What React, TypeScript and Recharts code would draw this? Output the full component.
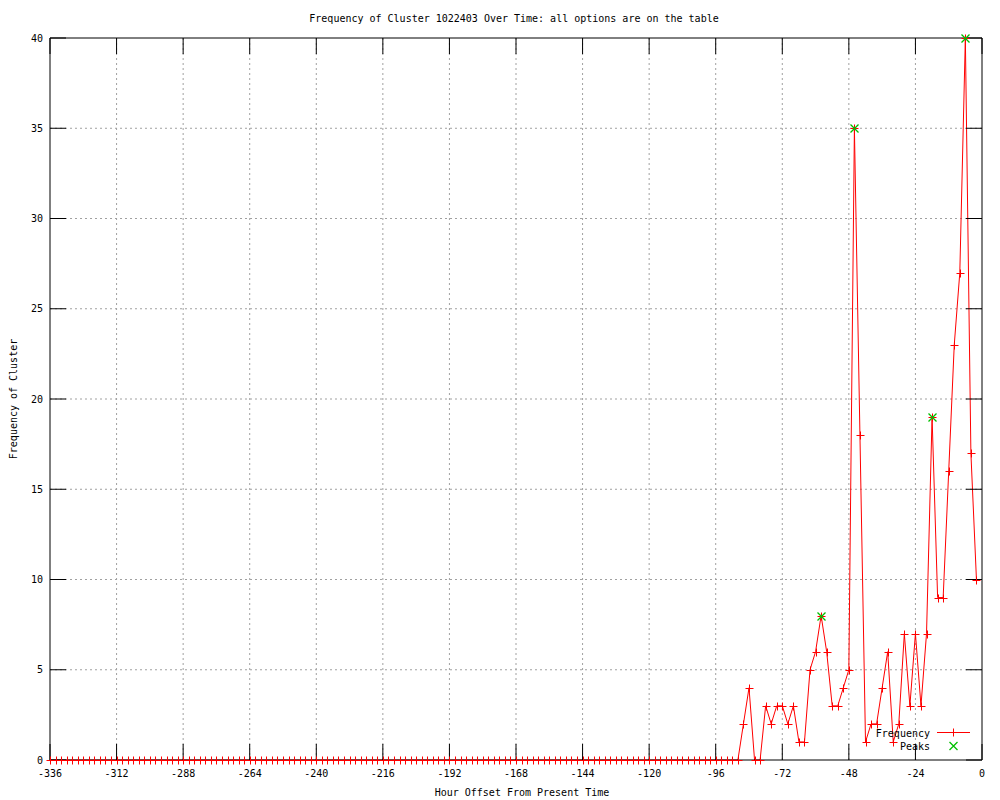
import React from 'react';
import { ComposedChart, Line, XAxis, YAxis, CartesianGrid } from 'recharts';

// Hour offsets (every 2 hours)
const hours = [
  -336, -334, -332, -330, -328, -326, -324, -322, -320, -318, -316, -314,
  -312, -310, -308, -306, -304, -302, -300, -298, -296, -294, -292, -290,
  -288, -286, -284, -282, -280, -278, -276, -274, -272, -270, -268, -266,
  -264, -262, -260, -258, -256, -254, -252, -250, -248, -246, -244, -242,
  -240, -238, -236, -234, -232, -230, -228, -226, -224, -222, -220, -218,
  -216, -214, -212, -210, -208, -206, -204, -202, -200, -198, -196, -194,
  -192, -190, -188, -186, -184, -182, -180, -178, -176, -174, -172, -170,
  -168, -166, -164, -162, -160, -158, -156, -154, -152, -150, -148, -146,
  -144, -142, -140, -138, -136, -134, -132, -130, -128, -126, -124, -122,
  -120, -118, -116, -114, -112, -110, -108, -106, -104, -102, -100, -98,
  -96, -94, -92, -90, -88, -86, -84, -82, -80, -78, -76, -74,
  -72, -70, -68, -66, -64, -62, -60, -58, -56, -54, -52, -50,
  -48, -46, -44, -42, -40, -38, -36, -34, -32, -30, -28, -26,
  -24, -22, -20, -18, -16, -14, -12, -10, -8, -6, -4, -2,
];

const frequency = [
  0, 0, 0, 0, 0, 0, 0, 0, 0, 0, 0, 0,
  0, 0, 0, 0, 0, 0, 0, 0, 0, 0, 0, 0,
  0, 0, 0, 0, 0, 0, 0, 0, 0, 0, 0, 0,
  0, 0, 0, 0, 0, 0, 0, 0, 0, 0, 0, 0,
  0, 0, 0, 0, 0, 0, 0, 0, 0, 0, 0, 0,
  0, 0, 0, 0, 0, 0, 0, 0, 0, 0, 0, 0,
  0, 0, 0, 0, 0, 0, 0, 0, 0, 0, 0, 0,
  0, 0, 0, 0, 0, 0, 0, 0, 0, 0, 0, 0,
  0, 0, 0, 0, 0, 0, 0, 0, 0, 0, 0, 0,
  0, 0, 0, 0, 0, 0, 0, 0, 0, 0, 0, 0,
  0, 0, 0, 0, 0, 2, 4, 0, 0, 3, 2, 3,
  3, 2, 3, 1, 1, 5, 6, 8, 6, 3, 3, 4,
  5, 35, 18, 1, 2, 2, 4, 6, 1, 2, 7, 3,
  7, 3, 7, 19, 9, 9, 16, 23, 27, 40, 17, 10,
];

const peakHours = [-58, -46, -18, -6];
const peakValues = [8, 35, 19, 40];

const xTicks = [-336, -312, -288, -264, -240, -216, -192, -168, -144, -120, -96, -72, -48, -24, 0];
const yTicks = [0, 5, 10, 15, 20, 25, 30, 35, 40];

const TITLE = 'Frequency of Cluster 1022403 Over Time: all options are on the table';
const X_LABEL = 'Hour Offset From Present Time';
const Y_LABEL = 'Frequency of Cluster';

const data = hours.map((h, i) => {
  const p = peakHours.indexOf(h);
  return { hour: h, freq: frequency[i], peak: p >= 0 ? peakValues[p] : null };
});

const FONT = '"DejaVu Sans Mono", monospace';
const RED = '#ff0000';
const GREEN = '#00c000';

const PlusDot = (props: any) => {
  const { cx, cy, index } = props;
  if (cx == null || cy == null) return <g key={`p${index}`} />;
  const x = Math.round(cx) + 0.5;
  const y = Math.round(cy) + 0.5;
  return (
    <path
      key={`p${index}`}
      d={`M${x - 4},${y}H${x + 4}M${x},${y - 4}V${y + 4}`}
      stroke={RED}
      strokeWidth={1}
      fill="none"
    />
  );
};

const CrossDot = (props: any) => {
  const { cx, cy, index, value } = props;
  if (cx == null || cy == null || value == null) return <g key={`c${index}`} />;
  const x = Math.round(cx) + 0.5;
  const y = Math.round(cy) + 0.5;
  return (
    <path
      key={`c${index}`}
      d={`M${x - 4},${y - 4}L${x + 4},${y + 4}M${x - 4},${y + 4}L${x + 4},${y - 4}`}
      stroke={GREEN}
      strokeWidth={1.3}
      fill="none"
    />
  );
};

const NoTick = () => <g />;

const tickStyle = { fontSize: 10, fill: '#000', fontFamily: FONT };

export default function App() {
  return (
    <div style={{ position: 'absolute', left: 0, top: 0, width: 1000, height: 800, background: '#fff' }}>
      <ComposedChart
        width={1000}
        height={800}
        data={data}
        margin={{ top: 28, right: 8, bottom: 0, left: 0 }}
      >
        <CartesianGrid
          stroke="#a0a0a0"
          strokeDasharray="2 3"
          horizontalValues={yTicks.slice(1, -1)}
          verticalValues={xTicks.slice(1, -1)}
        />
        <XAxis
          dataKey="hour"
          type="number"
          domain={[-336, 0]}
          ticks={xTicks}
          height={40}
          tickSize={-16}
          tickMargin={26}
          tick={tickStyle}
          stroke="#000"
          interval={0}
        />
        <XAxis
          xAxisId="top"
          dataKey="hour"
          orientation="top"
          type="number"
          domain={[-336, 0]}
          ticks={xTicks}
          height={10}
          tickSize={-16}
          tick={NoTick}
          stroke="#000"
          interval={0}
        />
        <YAxis
          type="number"
          domain={[0, 40]}
          ticks={yTicks}
          width={50}
          tickSize={-16}
          tickMargin={23}
          tick={tickStyle}
          stroke="#000"
          interval={0}
        />
        <YAxis
          yAxisId="right"
          orientation="right"
          type="number"
          domain={[0, 40]}
          ticks={yTicks}
          width={10}
          tickSize={-16}
          tick={NoTick}
          stroke="#000"
          interval={0}
        />
        <Line
          type="linear"
          dataKey="freq"
          stroke={RED}
          strokeWidth={1}
          dot={PlusDot}
          activeDot={false}
          isAnimationActive={false}
        />
        <Line
          xAxisId="top"
          yAxisId="right"
          type="linear"
          dataKey="peak"
          stroke="none"
          connectNulls={false}
          dot={CrossDot}
          activeDot={false}
          isAnimationActive={false}
        />
      </ComposedChart>
      <svg
        width={1000}
        height={800}
        style={{ position: 'absolute', left: 0, top: 0, pointerEvents: 'none' }}
        fontFamily={FONT}
        fontSize={10}
      >
        <text x={514} y={22} textAnchor="middle" fill="#000">{TITLE}</text>
        <text x={522} y={796} textAnchor="middle" fill="#000">{X_LABEL}</text>
        <text transform="translate(17,399) rotate(-90)" textAnchor="middle" fill="#000">{Y_LABEL}</text>
        <text x={930} y={737} textAnchor="end" fill="#000">Frequency</text>
        <text x={930} y={750} textAnchor="end" fill="#000">Peaks</text>
        <path d="M937,732.5H970M953.5,728.5V736.5" stroke={RED} strokeWidth={1} fill="none" />
        <path d="M949.5,742L957.5,750M949.5,750L957.5,742" stroke={GREEN} strokeWidth={1.3} fill="none" />
      </svg>
    </div>
  );
}
